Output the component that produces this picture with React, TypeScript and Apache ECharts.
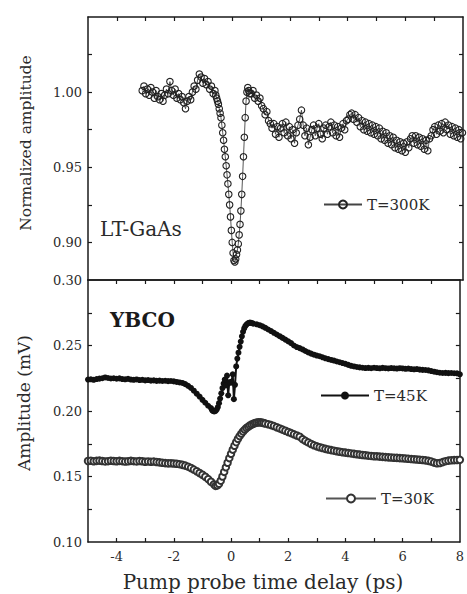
import React, { useEffect, useRef } from "react";
import * as echarts from "echarts";

// ---------- data (time delay in ps, amplitudes) ----------
// LT-GaAs, T=300K (normalized amplitude), three sampling segments
const gaasPreStart = -3.12;
const gaasPreStep = 0.06;
const gaasPreValues = [
  1.001, 1.004, 0.999, 1.002, 0.998, 1.003, 1.0, 0.996, 1.001, 0.997,
  0.995, 0.999, 0.994, 0.998, 1.002, 0.999, 1.007, 1.001, 0.998, 1.002,
  0.996, 0.999, 0.995, 0.997, 0.993, 0.989, 0.994, 0.997, 0.995, 1.0,
  1.004, 1.002, 1.008, 1.012, 1.01, 1.006, 1.009, 1.005, 1.007, 1.002,
  1.004, 0.999,
];
const gaasDipStart = -0.6;
const gaasDipStep = 0.03;
const gaasDipValues = [
  1.001, 0.998, 0.996, 0.994, 0.992, 0.989, 0.986, 0.983, 0.978, 0.973,
  0.968, 0.962, 0.957, 0.951, 0.945, 0.939, 0.932, 0.925, 0.917, 0.908,
  0.9, 0.893, 0.888, 0.887, 0.889, 0.892, 0.895, 0.899, 0.905, 0.912,
  0.921, 0.932, 0.944, 0.957, 0.97, 0.983, 0.994, 1.0, 1.003, 1.001,
  0.999,
];
const gaasPostStart = 0.66;
const gaasPostStep = 0.06;
const gaasPostValues = [
  0.999, 1.001, 0.996, 0.998, 0.994, 0.996, 0.991, 0.989, 0.985, 0.987,
  0.981, 0.979, 0.976, 0.979, 0.972, 0.977, 0.970, 0.976, 0.979, 0.973,
  0.980, 0.971, 0.977, 0.969, 0.975, 0.966, 0.973, 0.978, 0.982, 0.988,
  0.978, 0.971, 0.976, 0.965, 0.970, 0.975, 0.978, 0.971, 0.976, 0.979,
  0.972, 0.969, 0.976, 0.978, 0.972, 0.977, 0.980, 0.973, 0.978, 0.971,
  0.977, 0.970, 0.976, 0.979, 0.975, 0.981, 0.982, 0.985, 0.986, 0.982,
  0.985, 0.980, 0.983, 0.977, 0.981, 0.975, 0.980, 0.974, 0.979, 0.973,
  0.978, 0.972, 0.977, 0.971, 0.976, 0.969, 0.974, 0.968, 0.973, 0.966,
  0.971, 0.965, 0.970, 0.963, 0.968, 0.962, 0.967, 0.961, 0.966, 0.960,
  0.967, 0.963, 0.969, 0.971, 0.966, 0.971, 0.965, 0.970, 0.964, 0.969,
  0.962, 0.968, 0.961, 0.969, 0.971, 0.975, 0.977, 0.972, 0.978, 0.974,
  0.979, 0.973, 0.980, 0.975, 0.978, 0.972, 0.977, 0.971, 0.976, 0.970,
  0.975, 0.969, 0.973,
];

// YBCO, T=45K (mV)
const y45PreStart = -5.0;
const y45PreStep = 0.1;
const y45PreValues = [
  0.224, 0.2242, 0.2238, 0.2244, 0.2247, 0.225, 0.2256, 0.2252, 0.2248, 0.225,
  0.2246, 0.2249, 0.2244, 0.2242, 0.2245, 0.224, 0.2238, 0.2241, 0.2236, 0.2238,
  0.2234, 0.2236, 0.2232, 0.2234, 0.223, 0.2232, 0.2229, 0.2231, 0.2228, 0.2229,
  0.2226, 0.2222, 0.2218, 0.2214, 0.2205, 0.2192, 0.2176, 0.2155, 0.2132, 0.211,
  0.2085, 0.2063, 0.204, 0.2022,
];
const y45MidStart = -0.66;
const y45MidStep = 0.04;
const y45MidValues = [
  0.2005, 0.1998, 0.1996, 0.2, 0.2012, 0.203, 0.206, 0.2095, 0.2135, 0.2175,
  0.221, 0.224, 0.2195, 0.227, 0.212, 0.222, 0.2215, 0.2225, 0.228, 0.209,
  0.22, 0.234, 0.24, 0.2445, 0.249, 0.253, 0.257, 0.2605, 0.263, 0.2648,
  0.266, 0.2668, 0.2672, 0.2675, 0.2673, 0.267, 0.2667,
];
const y45PostStart = 0.9;
const y45PostStep = 0.1;
const y45PostValues = [
  0.2662, 0.2655, 0.2646, 0.2635, 0.2622, 0.261, 0.2597, 0.2584, 0.2571, 0.2558,
  0.2545, 0.2532, 0.2518, 0.25, 0.2488, 0.248, 0.247, 0.2458, 0.2447, 0.2438,
  0.243, 0.2423, 0.2418, 0.241, 0.2402, 0.2396, 0.239, 0.2385, 0.2378, 0.2372,
  0.2366, 0.236, 0.2352, 0.2345, 0.234, 0.2336, 0.2333, 0.233, 0.2328, 0.2329,
  0.2327, 0.233, 0.2328, 0.2326, 0.2329, 0.2327, 0.2325, 0.2328, 0.2326, 0.2324,
  0.2327, 0.2325, 0.2322, 0.2324, 0.232, 0.2318, 0.232, 0.2316, 0.2314, 0.2313,
  0.231, 0.2305, 0.23, 0.2296, 0.2292, 0.229, 0.2291, 0.2289, 0.229, 0.2288,
  0.2287, 0.228,
];

// YBCO, T=30K (mV)
const y30PreStart = -5.0;
const y30PreStep = 0.1;
const y30PreValues = [
  0.1618, 0.162, 0.1616, 0.1619, 0.1621, 0.1618, 0.1615, 0.1617, 0.162, 0.1618,
  0.1616, 0.1619, 0.1617, 0.1614, 0.1616, 0.1619, 0.1617, 0.1615, 0.1618, 0.1616,
  0.1613, 0.1615, 0.1612, 0.1614, 0.1611, 0.1608, 0.1605, 0.1602, 0.16, 0.1601,
  0.1599, 0.1597, 0.1594, 0.1589, 0.1583, 0.1575, 0.1565, 0.1553, 0.154, 0.1527,
  0.1513, 0.1498, 0.148, 0.146,
];
const y30MidStart = -0.6;
const y30MidStep = 0.06;
const y30MidValues = [
  0.144, 0.1428, 0.1432, 0.1445, 0.1468, 0.15, 0.1535, 0.157, 0.1605, 0.164,
  0.1673, 0.1705, 0.1735, 0.1762, 0.1787, 0.1808, 0.1827, 0.1844, 0.1858, 0.187,
  0.188, 0.1889, 0.1897, 0.1903, 0.1908, 0.1911, 0.1913, 0.1913, 0.1911, 0.1908,
  0.1904,
];
const y30PostStart = 1.3;
const y30PostStep = 0.1;
const y30PostValues = [
  0.1899, 0.1892, 0.1885, 0.1876, 0.1867, 0.1858, 0.1849, 0.184, 0.1831, 0.1822,
  0.1813, 0.1804, 0.1785, 0.1772, 0.176, 0.1748, 0.1738, 0.173, 0.1723, 0.1717,
  0.1711, 0.1706, 0.1701, 0.1697, 0.1693, 0.1689, 0.1685, 0.1682, 0.1679, 0.1676,
  0.1673, 0.167, 0.1667, 0.1664, 0.1662, 0.1659, 0.1657, 0.1655, 0.1654, 0.1652,
  0.165, 0.1648, 0.1646, 0.1645, 0.1643, 0.1642, 0.164, 0.1639, 0.1637, 0.1635,
  0.1633, 0.1632, 0.163, 0.1628, 0.1626, 0.1623, 0.1619, 0.1614, 0.1606, 0.1601,
  0.1603, 0.161, 0.1617, 0.1621, 0.1624, 0.1625, 0.1626, 0.1627,
];

// axes
const xMin = -5;
const xMax = 8;
const xLabelValues = [-4, -2, 0, 2, 4, 6, 8];
const xTickValues = [-4, -3, -2, -1, 0, 1, 2, 3, 4, 5, 6, 7];
const topYMin = 0.875;
const topYMax = 1.05;
const topYLabels = [0.9, 0.95, 1.0];
const topYTicks = [0.9, 0.925, 0.95, 0.975, 1.0, 1.025];
const botYMin = 0.1;
const botYMax = 0.3;
const botYLabels = [0.1, 0.15, 0.2, 0.25, 0.3];
const botYTicks = [0.125, 0.15, 0.175, 0.2, 0.225, 0.25, 0.275];

const seriesNames = ["T=300K", "T=45K", "T=30K"];

function seg(start: number, step: number, values: number[]) {
  return values.map((v, i) => [Math.round((start + i * step) * 1000) / 1000, v]);
}

const FONT = "DejaVu Serif";
const INK = "#1a1a1a";

export default function App() {
  const ref = useRef<HTMLDivElement>(null);

  useEffect(() => {
    if (!ref.current) return;
    const chart = echarts.init(ref.current, undefined, { renderer: "svg" });

    const gaasData = [
      ...seg(gaasPreStart, gaasPreStep, gaasPreValues),
      ...seg(gaasDipStart, gaasDipStep, gaasDipValues),
      ...seg(gaasPostStart, gaasPostStep, gaasPostValues),
    ];
    const y45Data = [
      ...seg(y45PreStart, y45PreStep, y45PreValues),
      ...seg(y45MidStart, y45MidStep, y45MidValues),
      ...seg(y45PostStart, y45PostStep, y45PostValues),
    ];
    const y30Data = [
      ...seg(y30PreStart, y30PreStep, y30PreValues),
      ...seg(y30MidStart, y30MidStep, y30MidValues),
      ...seg(y30PostStart, y30PostStep, y30PostValues),
    ];

    const axisLine = { show: true, onZero: false, lineStyle: { color: INK, width: 1.5 } };
    const tickIn = (vals: number[]) => ({
      show: true,
      inside: true,
      length: 4,
      customValues: vals,
      lineStyle: { color: INK, width: 1.2 },
    });
    const labelStyle = { fontFamily: FONT, fontSize: 13, color: "#2a2a2a" };

    const xBase = { type: "value", min: xMin, max: xMax, splitLine: { show: false } };
    const legendBase = {
      orient: "horizontal",
      padding: 0,
      itemHeight: 10,
      textStyle: { fontFamily: FONT, fontSize: 15, color: "#2a2a2a" },
      selectedMode: false,
    };

    chart.setOption({
      animation: false,
      backgroundColor: "#ffffff",
      grid: [
        { left: 88, top: 17, width: 375, height: 263 },
        { left: 88, top: 280, width: 375, height: 262 },
      ],
      xAxis: [
        { ...xBase, gridIndex: 0, position: "bottom", axisLine, axisTick: { show: false }, axisLabel: { show: false } },
        { ...xBase, gridIndex: 0, position: "top", axisLine, axisTick: tickIn(xTickValues), axisLabel: { show: false } },
        {
          ...xBase,
          gridIndex: 1,
          position: "bottom",
          axisLine,
          axisTick: tickIn(xTickValues),
          axisLabel: { ...labelStyle, margin: 8, customValues: xLabelValues, formatter: (v: number) => String(v) },
        },
        { ...xBase, gridIndex: 1, position: "top", axisLine, axisTick: tickIn(xTickValues), axisLabel: { show: false } },
      ],
      yAxis: [
        {
          type: "value",
          gridIndex: 0,
          position: "left",
          min: topYMin,
          max: topYMax,
          splitLine: { show: false },
          axisLine,
          axisTick: tickIn(topYTicks),
          axisLabel: { ...labelStyle, margin: 6, customValues: topYLabels, formatter: (v: number) => v.toFixed(2) },
        },
        {
          type: "value",
          gridIndex: 0,
          position: "right",
          min: topYMin,
          max: topYMax,
          splitLine: { show: false },
          axisLine,
          axisTick: tickIn(topYTicks),
          axisLabel: { show: false },
        },
        {
          type: "value",
          gridIndex: 1,
          position: "left",
          min: botYMin,
          max: botYMax,
          splitLine: { show: false },
          axisLine,
          axisTick: tickIn(botYTicks),
          axisLabel: { ...labelStyle, margin: 6, customValues: botYLabels, formatter: (v: number) => v.toFixed(2) },
        },
        {
          type: "value",
          gridIndex: 1,
          position: "right",
          min: botYMin,
          max: botYMax,
          splitLine: { show: false },
          axisLine,
          axisTick: tickIn(botYTicks),
          axisLabel: { show: false },
        },
      ],
      legend: [
        { ...legendBase, left: 323, top: 197, itemWidth: 38, data: [seriesNames[0]] },
        { ...legendBase, left: 320, top: 388, itemWidth: 48, data: [seriesNames[1]] },
        { ...legendBase, left: 325, top: 491, itemWidth: 50, data: [seriesNames[2]] },
      ],
      series: [
        {
          name: seriesNames[0],
          type: "line",
          xAxisIndex: 0,
          yAxisIndex: 0,
          data: gaasData,
          symbol: "circle",
          symbolSize: 6.5,
          showAllSymbol: true,
          itemStyle: { color: "rgba(255,255,255,0)", borderColor: "#222222", borderWidth: 1.1 },
          lineStyle: { color: "#444444", width: 0.9 },
        },
        {
          name: seriesNames[1],
          type: "line",
          xAxisIndex: 2,
          yAxisIndex: 2,
          data: y45Data,
          symbol: "circle",
          symbolSize: 6,
          showAllSymbol: true,
          itemStyle: { color: "#111111" },
          lineStyle: { color: "#111111", width: 2 },
        },
        {
          name: seriesNames[2],
          type: "line",
          xAxisIndex: 2,
          yAxisIndex: 2,
          data: y30Data,
          symbol: "emptyCircle",
          symbolSize: 6.5,
          showAllSymbol: true,
          itemStyle: { color: "#333333", borderWidth: 1.2 },
          lineStyle: { color: "#555555", width: 1 },
        },
      ],
      graphic: [
        {
          type: "text",
          x: 26,
          y: 143,
          rotation: Math.PI / 2,
          style: { text: "Normalized amplitude", fontFamily: FONT, fontSize: 15.5, fill: "#2a2a2a", align: "center", verticalAlign: "middle" },
        },
        {
          type: "text",
          x: 24,
          y: 403,
          rotation: Math.PI / 2,
          style: { text: "Amplitude (mV)", fontFamily: FONT, fontSize: 17, fill: "#2a2a2a", align: "center", verticalAlign: "middle" },
        },
        {
          type: "text",
          x: 263,
          y: 582,
          style: { text: "Pump probe time delay (ps)", fontFamily: FONT, fontSize: 20, fill: "#2a2a2a", align: "center", verticalAlign: "middle" },
        },
        {
          type: "text",
          x: 100,
          y: 229,
          style: { text: "LT-GaAs", fontFamily: FONT, fontSize: 20, fill: "#2a2a2a", align: "left", verticalAlign: "middle" },
        },
        {
          type: "text",
          x: 110,
          y: 320,
          style: { text: "YBCO", fontFamily: FONT, fontSize: 20, fontWeight: "bold", fill: "#1a1a1a", align: "left", verticalAlign: "middle" },
        },
      ],
    });

    return () => chart.dispose();
  }, []);

  return (
    <div
      ref={ref}
      style={{ position: "fixed", left: 0, top: 0, width: 467, height: 594, background: "#fff" }}
    />
  );
}
